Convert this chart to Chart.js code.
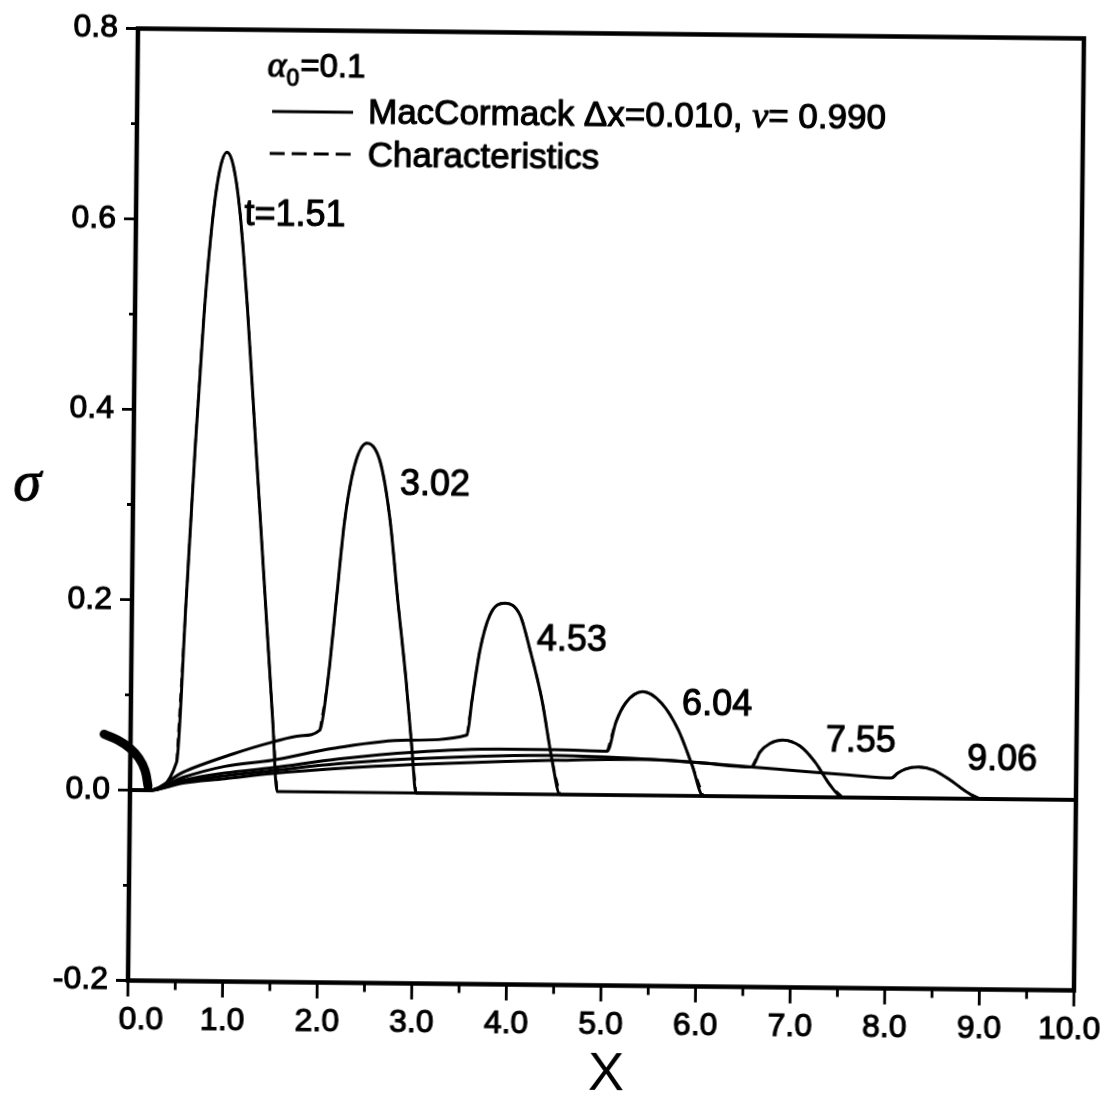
<!DOCTYPE html>
<html>
<head>
<meta charset="utf-8">
<title>sigma vs X</title>
<script src="https://cdn.jsdelivr.net/npm/chart.js@4.4.1/dist/chart.umd.min.js"></script>
<style>
  html, body { margin: 0; padding: 0; background: #fff; overflow: hidden; }
  #wrap { width: 1108px; height: 1099px; }
  /* the printed figure sits slightly skewed on the page */
  #plot { display: block; transform: rotate(0.6deg); transform-origin: 128px 981px; }
</style>
</head>
<body>
<div id="wrap"><canvas id="plot" width="1108" height="1099"></canvas></div>
<script>
const SANS = '"Liberation Sans", Arial, Helvetica, sans-serif';
const SERIF = '"Liberation Serif", "Times New Roman", serif';

// axis ticks
const xMajor = [0, 1, 2, 3, 4, 5, 6, 7, 8, 9, 10];
const xMinor = [0.5, 1.5, 2.5, 3.5, 4.5, 5.5, 6.5, 7.5, 8.5, 9.5];
const yMajor = [-0.2, 0, 0.2, 0.4, 0.6, 0.8];
const yMinor = [-0.1, 0.1, 0.3, 0.5, 0.7];
const xEnd = 10;

// sigma profiles, MacCormack dx=0.010 : tail behind the pulse, then the pulse itself
const tail151X = [0, 0.2];
const tail151Y = [0, 0];
const pulse151X = [0.49, 0.57, 0.65, 0.73, 0.81, 0.88, 0.955, 1.03, 1.10, 1.19, 1.30, 1.41, 1.50, 1.555];
const pulse151Y = [0.030, 0.194, 0.358, 0.500, 0.600, 0.652, 0.671, 0.654, 0.607, 0.505, 0.352, 0.200, 0.076, 0.0];

const tail302X = [0, 0.2, 0.56, 1.08, 1.5, 1.8];
const tail302Y = [0, 0, 0.0195, 0.039, 0.052, 0.059];
const pulse302X = [2.0, 2.08, 2.16, 2.24, 2.34, 2.467, 2.61, 2.72, 2.81, 2.905, 2.977, 3.023];
const pulse302Y = [0.065, 0.118, 0.202, 0.286, 0.344, 0.367, 0.347, 0.286, 0.202, 0.119, 0.045, 0.0];

const tail453X = [0, 0.2, 0.56, 1.0, 1.5, 2.14, 2.92];
const tail453Y = [0, 0, 0.014, 0.026, 0.033, 0.046, 0.0555];
const pulse453X = [3.556, 3.605, 3.684, 3.786, 3.943, 4.104, 4.212, 4.345, 4.458, 4.546];
const pulse453Y = [0.0615, 0.098, 0.151, 0.188, 0.2005, 0.188, 0.152, 0.099, 0.036, 0.0];

const tail604X = [0, 0.2, 0.56, 1.0, 1.5, 2.2, 3.0, 3.9, 4.5];
const tail604Y = [0, 0, 0.011, 0.019, 0.025, 0.035, 0.043, 0.047, 0.047];
const pulse604X = [5.04, 5.13, 5.23, 5.41, 5.61, 5.79, 5.94, 6.06];
const pulse604Y = [0.046, 0.077, 0.097, 0.109, 0.097, 0.069, 0.032, 0.0];

const tail755X = [0, 0.2, 0.56, 1.0, 1.5, 2.2, 3.0, 3.9, 4.5, 5.5, 6.02];
const tail755Y = [0, 0, 0.009, 0.016, 0.022, 0.030, 0.036, 0.040, 0.041, 0.038, 0.035];
const pulse755X = [6.57, 6.654, 6.76, 6.896, 7.077, 7.238, 7.40, 7.538];
const pulse755Y = [0.031, 0.0468, 0.056, 0.0597, 0.0536, 0.037, 0.013, 0.0];

const tail906X = [0, 0.2, 0.56, 1.0, 1.5, 2.2, 3.0, 3.9, 4.5, 5.5, 6.02, 6.57, 7.0, 7.61];
const tail906Y = [0, 0, 0.008, 0.013, 0.019, 0.025, 0.030, 0.034, 0.036, 0.038, 0.035, 0.031, 0.028, 0.0237];
const pulse906X = [8.05, 8.11, 8.19, 8.33, 8.49, 8.67, 8.85, 9.0];
const pulse906Y = [0.021, 0.026, 0.0305, 0.033, 0.030, 0.0195, 0.007, 0.0];

// heavy stroke near the origin, listed from its lower end up to the tip
const blobX = [0.19, 0.156, 0.091, -0.005, -0.133, -0.28];
const blobY = [0.0044, 0.021, 0.0337, 0.044, 0.0524, 0.0585];

// time labels and where they sit (data units)
const timeText = ['t=1.51', '3.02', '4.53', '6.04', '7.55', '9.06'];
const timeAtX = [1.68, 3.19, 4.655, 6.196, 7.72, 9.215];
const timeAtY = [0.6055, 0.3236, 0.162, 0.0958, 0.0585, 0.0412];

function pts(xs, ys) {
  return xs.map(function(x, i) { return { x: x, y: ys[i] }; });
}

const runs = [
  [tail151X, tail151Y, pulse151X, pulse151Y],
  [tail302X, tail302Y, pulse302X, pulse302Y],
  [tail453X, tail453Y, pulse453X, pulse453Y],
  [tail604X, tail604Y, pulse604X, pulse604Y],
  [tail755X, tail755Y, pulse755X, pulse755Y],
  [tail906X, tail906Y, pulse906X, pulse906Y]
];

const datasets = [];
runs.forEach(function(r) {
  // MacCormack: whole profile out to x = 10
  datasets.push({
    data: pts(r[0].concat(r[2], [xEnd]), r[1].concat(r[3], [0])),
    borderColor: '#000', borderWidth: 3, pointRadius: 0,
    cubicInterpolationMode: 'monotone', fill: false
  });
  // characteristics: pulse part, dashed
  datasets.push({
    data: pts(r[2], r[3]),
    borderColor: '#000', borderWidth: 2.4, borderDash: [9, 6], pointRadius: 0,
    cubicInterpolationMode: 'monotone', fill: false
  });
});
datasets.push({
  data: pts(blobX, blobY),
  borderColor: '#000', borderWidth: 9, pointRadius: 0, clip: false, tension: 0.4,
  borderCapStyle: 'round', borderJoinStyle: 'round', fill: false
});

function xLabel(v) {
  const s = Number(v).toFixed(1);
  if (v === 0) return '   ' + s;
  if (v === 10) return s + ' ';
  return s;
}

// draws a run of [text, font, dy, gap] pieces from left to right
function drawPieces(ctx, x, y, pieces) {
  pieces.forEach(function(p) {
    ctx.font = p[1];
    const dy = p[2] || 0;
    ctx.fillText(p[0], x, y + dy);
    ctx.strokeText(p[0], x, y + dy);
    x += ctx.measureText(p[0]).width + (p[3] || 0);
  });
}

const decorations = {
  id: 'decorations',
  afterDatasetsDraw(chart) {
    const ctx = chart.ctx;
    const a = chart.chartArea;
    const xs = chart.scales.x;
    const ys = chart.scales.y;
    ctx.save();
    ctx.strokeStyle = '#000';
    ctx.fillStyle = '#000';

    // frame
    ctx.lineWidth = 4.5;
    ctx.strokeRect(a.left, a.top, a.right - a.left, a.bottom - a.top);

    // tick marks
    ctx.lineWidth = 2.8;
    ctx.beginPath();
    xMajor.forEach(function(v) { const p = xs.getPixelForValue(v); ctx.moveTo(p, a.bottom); ctx.lineTo(p, a.bottom + 16); });
    xMinor.forEach(function(v) { const p = xs.getPixelForValue(v); ctx.moveTo(p, a.bottom); ctx.lineTo(p, a.bottom + 9); });
    yMajor.forEach(function(v) { const p = ys.getPixelForValue(v); ctx.moveTo(a.left, p); ctx.lineTo(a.left - 12, p); });
    yMinor.forEach(function(v) { const p = ys.getPixelForValue(v); ctx.moveTo(a.left, p); ctx.lineTo(a.left - 6, p); });
    ctx.stroke();

    ctx.lineWidth = 1.1;
    ctx.lineJoin = 'round';

    // time labels
    ctx.textAlign = 'center';
    ctx.textBaseline = 'middle';
    ctx.font = '36px ' + SANS;
    timeText.forEach(function(t, i) {
      const px = xs.getPixelForValue(timeAtX[i]);
      const py = ys.getPixelForValue(timeAtY[i]);
      ctx.fillText(t, px, py);
      ctx.strokeText(t, px, py);
    });

    // axis titles
    ctx.font = 'italic 56px ' + SERIF;
    ctx.fillText('\u03c3', 22, 486);
    ctx.strokeText('\u03c3', 22, 486);
    ctx.font = '54px ' + SANS;
    ctx.fillText('X', 607, 1070);

    // legend
    ctx.textAlign = 'left';
    ctx.textBaseline = 'alphabetic';
    const lx = a.left, ly = a.top;
    drawPieces(ctx, lx + 130, ly + 46, [
      ['\u03b1', 'italic 36px ' + SERIF],
      ['0', '23px ' + SANS, 9, 1],
      ['=0.1', '33px ' + SANS]
    ]);
    ctx.lineWidth = 3;
    ctx.beginPath();
    ctx.moveTo(lx + 135, ly + 81.5);
    ctx.lineTo(lx + 216, ly + 81.5);
    ctx.stroke();
    ctx.setLineDash([15, 7]);
    ctx.beginPath();
    ctx.moveTo(lx + 133, ly + 123.5);
    ctx.lineTo(lx + 216, ly + 123.5);
    ctx.stroke();
    ctx.setLineDash([]);
    ctx.lineWidth = 1.1;
    drawPieces(ctx, lx + 231, ly + 92, [
      ['MacCormack \u0394x=0.010, ', '35px ' + SANS],
      ['\u03bd', 'italic 36px ' + SERIF],
      ['= 0.990', '35px ' + SANS]
    ]);
    drawPieces(ctx, lx + 231, ly + 135, [
      ['Characteristics', '35px ' + SANS]
    ]);
    ctx.restore();
  }
};

new Chart(document.getElementById('plot'), {
  type: 'line',
  data: { datasets: datasets },
  options: {
    responsive: false,
    animation: false,
    events: [],
    layout: { padding: { top: 28.5, right: 34, bottom: 0, left: 0 } },
    plugins: { legend: { display: false }, tooltip: { enabled: false } },
    scales: {
      x: {
        type: 'linear', min: 0, max: 10,
        afterBuildTicks: function(s) { s.ticks = xMajor.map(function(v) { return { value: v }; }); },
        afterFit: function(s) { s.height = 118.5; s.paddingLeft = 0; s.paddingRight = 0; },
        grid: { display: false, drawTicks: false },
        border: { display: false },
        ticks: {
          callback: xLabel, autoSkip: false, maxRotation: 0,
          color: '#000', padding: 20, textStrokeColor: '#000', textStrokeWidth: 1.1,
          font: { family: SANS, size: 32 }
        }
      },
      y: {
        type: 'linear', min: -0.2, max: 0.8,
        afterBuildTicks: function(s) { s.ticks = yMajor.map(function(v) { return { value: v }; }); },
        afterFit: function(s) { s.width = 128; s.paddingTop = 0; s.paddingBottom = 0; },
        grid: { display: false, drawTicks: false },
        border: { display: false },
        ticks: {
          callback: function(v) { return Number(v).toFixed(1); },
          color: '#000', padding: 20, textStrokeColor: '#000', textStrokeWidth: 1.1,
          font: { family: SANS, size: 32 }
        }
      }
    }
  },
  plugins: [decorations]
});
</script>
</body>
</html>
